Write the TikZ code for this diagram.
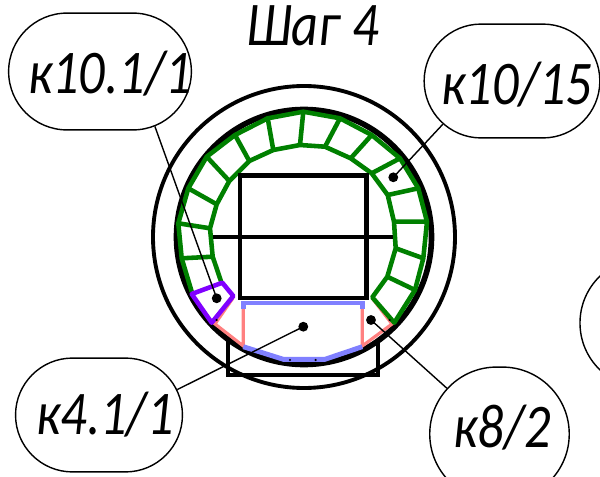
\documentclass[tikz,border=0pt]{standalone}
\usepackage{fontspec}
\setmainfont{Carlito}
\usetikzlibrary{shapes.misc}
\definecolor{blockgreen}{RGB}{0,128,0}
\definecolor{blockviolet}{RGB}{128,0,255}
\definecolor{seamblue}{RGB}{128,128,255}
\definecolor{seampink}{RGB}{255,128,128}
\tikzset{
    lbl/.style={draw, line width=0.8pt, rounded rectangle, inner sep=0pt},
    txt/.style={inner sep=0pt, transform shape, xscale=0.96, yscale=1.14, font=\fontsize{31}{32}\selectfont\itshape},
    dot/.style={circle, fill=black, inner sep=0pt, minimum size=5.6pt},
    speck/.style={circle, fill=black, inner sep=0pt, minimum size=1.4pt},
    leader/.style={line width=0.8pt},
    heavy/.style={line width=2.8pt},
    blocks/.style={blockgreen, line width=2.6pt, line join=round},
}
\begin{document}
\begin{tikzpicture}[x=0.02cm, y=-0.02cm]
    \useasboundingbox (0,0) rectangle (600,477);

    % rings and frame
    \draw[line width=2.2pt] (304,237) circle [radius=151];
    \draw[line width=3.2pt] (304,237) circle [radius=127.5];
    \draw[line width=2.4pt] (228,341) -- (228,375) -- (378,375) -- (378,341);

    % pink joints
    \draw[seampink, line width=1.8pt] (233,298) -- (215,324) -- (243.3,346) -- (243.3,303) (372,298) -- (392,324) -- (362.3,346) -- (362.3,303);

    % blue joints
    \draw[seamblue, line width=2.8pt] (243.3,309) -- (243.3,303) -- (362.3,303) -- (362.3,309);
    \draw[seamblue, line width=2.8pt] (243.3,346.7) -- (283.3,359.3) -- (325,359.3) -- (362.3,346.7);

    % green blocks
    \draw[blocks] (191.7,291.7) -- (181.7,258.3) -- (178.3,223.3) -- (188.3,188.3) -- (206.7,156.7) -- (235,135) -- (267.7,118.3) -- (303.3,111.7) -- (340,118.3) -- (371.7,135) -- (400,158.3) -- (418.3,188.3) -- (427,221.7) -- (423.3,258.3) -- (415,290) -- (394.3,322.7) -- (372.3,297.3) -- (387.3,276.7) -- (395.7,248.3) -- (394,221.7) -- (387.7,195) -- (371.7,173.3) -- (350.7,158.3) -- (325,146.7) -- (300,145) -- (273.3,150) -- (249.3,161) -- (229.3,181) -- (216.7,204.3) -- (210,228.3) -- (212.7,256.7) -- (221.7,283.3);
    \draw[blocks] (303.3,111.7) -- (300,145) (267.7,118.3) -- (273.3,150) (235,135) -- (249.3,161) (206.7,156.7) -- (229.3,181) (188.3,188.3) -- (216.7,204.3) (178.3,223.3) -- (210,228.3) (181.7,258.3) -- (212.7,256.7);
    \draw[blocks] (340,118.3) -- (325,146.7) (371.7,135) -- (350.7,158.3) (400,158.3) -- (371.7,173.3) (418.3,188.3) -- (387.7,195) (427,221.7) -- (394,221.7) (423.3,258.3) -- (395.7,248.3) (415,290) -- (387.3,276.7);

    % violet block
    \draw[blockviolet, line width=2.6pt, line join=round] (191.7,294) -- (222.3,282.7) -- (233.3,296) -- (211.7,322.7) -- cycle;

    % opening
    \draw[heavy] (240,298) -- (240,175.7) -- (366.5,175.7) -- (366.5,298) -- cycle;
    \draw[line width=2.4pt] (213,236.7) -- (393,236.7);

    \node[dot] (d1) at (216.7,298.3) {};
    \node[dot] (d2) at (393.3,177.3) {};
    \node[dot] (d3) at (303.3,326.7) {};
    \node[dot] (d4) at (371,320) {};
    \node[speck] (s1) at (290,360) {};
    \node[speck] (s2) at (315.7,360) {};
    \node[speck] (s3) at (216.7,320) {};
    \node[speck] (s4) at (389.6,320) {};

    \node[txt] (title) at (312.5,26) {Шаг 4};
    \node[lbl, minimum width=104pt, minimum height=66.5pt] (a) at (100,71.5) {};
    \node[lbl, minimum width=100pt, minimum height=64.8pt] (b) at (512,81) {};
    \node[lbl, minimum width=95pt, minimum height=64.8pt] (c) at (99,415) {};
    \node[lbl, minimum width=79.4pt, minimum height=76.2pt] (e) at (499.5,434) {};
    \node[lbl, minimum width=74pt, minimum height=74pt] (f) at (645,323) {};
    \node[txt] (ta) at (110,74) {к10.1/1};
    \node[txt] (tb) at (517,85) {к10/15};
    \node[txt] (tc) at (105,415) {к4.1/1};
    \node[txt] (te) at (502,428) {к8/2};

    \draw[leader] (a.-45) -- (d1.center);
    \draw[leader] (b.212) -- (d2.center);
    \draw[leader] (c.18) -- (d3.center);
    \draw[leader] (e.139) -- (d4.center);
\end{tikzpicture}
\end{document}
